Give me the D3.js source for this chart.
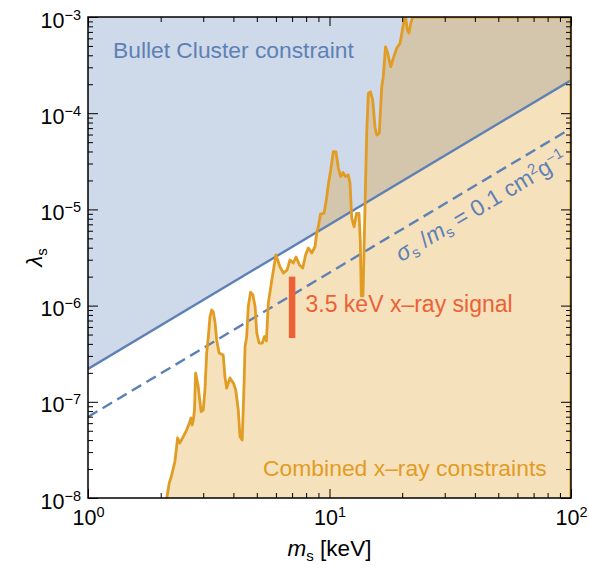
<!DOCTYPE html>
<html><head><meta charset="utf-8">
<script src="https://cdn.jsdelivr.net/npm/d3@7"></script>
<style>body{margin:0;background:#fff} text{font-family:"Liberation Sans",Arial,sans-serif}</style>
</head><body><svg id="c" width="589" height="568"></svg>
<script>
// ---- data ----
const massKeV = [2.12,2.17,2.22,2.29,2.35,2.40,2.48,2.56,2.63,2.67,
  2.70,2.73,2.76,2.79,2.86,2.94,3.00,3.05,3.10,3.15,
  3.20,3.25,3.30,3.36,3.41,3.49,3.63,3.69,3.75,3.87,
  4.00,4.09,4.19,4.26,4.35,4.43,4.47,4.54,4.61,4.71,
  4.82,4.92,5.00,5.11,5.27,5.38,5.48,5.58,5.76,6.00,
  6.24,6.45,6.67,6.86,7.08,7.27,7.51,7.75,7.96,8.17,
  8.44,8.71,8.85,8.99,9.18,9.49,9.70,9.91,10.12,10.37,
  10.64,10.88,11.13,11.37,11.65,11.96,12.16,12.36,12.64,12.94,
  13.25,13.41,13.54,13.76,13.90,14.03,14.26,14.48,14.78,15.10,
  15.43,15.69,16.08,16.45,16.70,17.06,17.42,17.92,18.37,18.98,
  19.59,19.91,20.35,20.68,21.00,21.34,21.69,22.11,22.6];
const lambdaS = [1.0e-8,1.43e-8,1.73e-8,2.38e-8,4.21e-8,3.73e-8,4.34e-8,5.09e-8,6.03e-8,6.79e-8,
  5.74e-8,6.47e-8,8.22e-8,1.99e-7,1.44e-7,7.89e-8,8.22e-8,1.33e-7,3.21e-7,4.75e-7,
  7.67e-7,9.00e-7,8.65e-7,6.59e-7,4.39e-7,3.21e-7,3.06e-7,1.82e-7,1.39e-7,1.77e-7,
  1.57e-7,1.33e-7,8.22e-8,4.34e-8,4.01e-8,1.57e-7,3.74e-7,4.75e-7,9.75e-7,1.38e-6,
  1.29e-6,9.75e-7,5.19e-7,4.08e-7,4.08e-7,4.77e-7,4.29e-7,1.06e-6,1.80e-6,3.36e-6,
  2.52e-6,2.18e-6,2.34e-6,2.98e-6,2.77e-6,3.20e-6,2.64e-6,2.46e-6,3.36e-6,3.97e-6,
  3.52e-6,4.09e-6,5.69e-6,6.61e-6,8.96e-6,9.10e-6,1.25e-5,1.88e-5,2.57e-5,3.98e-5,
  3.95e-5,2.69e-5,2.19e-5,2.42e-5,2.20e-5,2.28e-5,1.88e-5,8.15e-6,6.61e-6,9.10e-6,
  9.10e-6,4.81e-6,1.26e-6,1.26e-6,3.78e-6,1.07e-5,6.22e-5,1.61e-4,1.67e-4,1.37e-4,
  7.19e-5,5.93e-5,6.18e-5,1.87e-4,2.38e-4,4.88e-4,4.20e-4,3.04e-4,3.72e-4,4.73e-4,
  5.33e-4,6.66e-4,9.31e-4,9.76e-4,7.32e-4,6.82e-4,8.60e-4,1.0e-3,1.1e-3];
const bulletLambdaAt1keV = 2.2e-7;     // Bullet Cluster line at 1 keV
const dashedLambdaAt1keV = 6.96e-8;    // sigma/m = 0.1 cm^2/g line at 1 keV
const linePower = 1.5;
const lineMasses = [1, 100];
const signalMass = 7.0;
const signalLambda = [4.6e-7, 2.0e-6];
const xMajor = [1, 10, 100];
const xMajorExp = ["0", "1", "2"];
const yMajor = [1e-8, 1e-7, 1e-6, 1e-5, 1e-4, 1e-3];
const yMajorExp = ["\u22128", "\u22127", "\u22126", "\u22125", "\u22124", "\u22123"];

// ---- layout ----
const L = 88, R = 571, T = 17, B = 498;
const blue = "#5E81B5", orange = "#E19C24", red = "#EB6235";
const svg = d3.select("#c");
const x = d3.scaleLog().domain([1, 100]).range([L, R]);
const y = d3.scaleLog().domain([1e-8, 1e-3]).range([B, T]);

svg.append("defs").append("clipPath").attr("id", "clip")
  .append("rect").attr("x", L).attr("y", T).attr("width", R - L).attr("height", B - T);
const plot = svg.append("g").attr("clip-path", "url(#clip)");

const bullet = m => bulletLambdaAt1keV * Math.pow(m, linePower);
const dashed = m => dashedLambdaAt1keV * Math.pow(m, linePower);
const line = d3.line().x(d => x(d[0])).y(d => y(d[1]));

// blue region (above Bullet Cluster line)
const bluePoly = lineMasses.map(m => [m, bullet(m)]).concat([[100, 1e-3], [1, 1e-3]]);
plot.append("path").attr("d", line(bluePoly) + "Z").attr("fill", blue).attr("fill-opacity", 0.3);

// orange region (under x-ray constraint)
const curve = massKeV.map((m, i) => [m, lambdaS[i]]);
const orangePoly = curve.concat([[100, 1.1e-3], [100, 1e-8], [massKeV[0], 1e-8]]);
plot.append("path").attr("d", line(orangePoly) + "Z").attr("fill", orange).attr("fill-opacity", 0.3);

// lines
plot.append("path").attr("d", line(lineMasses.map(m => [m, bullet(m)])))
  .attr("fill", "none").attr("stroke", blue).attr("stroke-width", 2.4);
plot.append("path").attr("d", line(lineMasses.map(m => [m, dashed(m)])))
  .attr("fill", "none").attr("stroke", blue).attr("stroke-width", 2.4).attr("stroke-dasharray", "11,6");
plot.append("path").attr("d", line([[22.11, 1e-3], [100, 1e-3], [100, 1e-8]]))
  .attr("fill", "none").attr("stroke", orange).attr("stroke-width", 3);
plot.append("path").attr("d", line(curve))
  .attr("fill", "none").attr("stroke", orange).attr("stroke-width", 2.8).attr("stroke-linejoin", "round");

// signal bar
plot.append("line").attr("x1", x(signalMass)).attr("x2", x(signalMass))
  .attr("y1", y(signalLambda[0])).attr("y2", y(signalLambda[1]))
  .attr("stroke", red).attr("stroke-width", 6.5);

// ---- text labels ----
svg.append("text").attr("x", 113).attr("y", 58).attr("font-size", 22.8).attr("fill", blue)
  .text("Bullet Cluster constraint");
svg.append("text").attr("x", 305.5).attr("y", 311.5).attr("font-size", 23).attr("fill", red)
  .text("3.5 keV x\u2013ray signal");
svg.append("text").attr("x", 263).attr("y", 476).attr("font-size", 22.9).attr("fill", orange)
  .text("Combined x\u2013ray constraints");

// rotated dashed-line label
{
  const m0 = 17.3, m1 = 100;
  const ang = Math.atan2(y(dashed(m1)) - y(dashed(m0)), x(m1) - x(m0)) * 180 / Math.PI;
  const t = svg.append("text").attr("font-size", 23).attr("fill", blue)
    .attr("transform", `translate(${x(m0)},${y(dashed(m0))}) rotate(${ang}) translate(0,28)`);
  t.append("tspan").attr("font-style", "italic").text("\u03c3");
  t.append("tspan").attr("font-size", 15).attr("dy", 4).text("s");
  t.append("tspan").attr("dy", -4).attr("font-style", "normal").text(" /");
  t.append("tspan").attr("font-style", "italic").text("m");
  t.append("tspan").attr("font-size", 15).attr("dy", 4).text("s");
  t.append("tspan").attr("dy", -4).attr("font-style", "normal").text(" = 0.1 cm");
  t.append("tspan").attr("font-size", 15).attr("dy", -8).text("2");
  t.append("tspan").attr("dy", 8).text("g");
  t.append("tspan").attr("font-size", 15).attr("dy", -8).text("\u22121");
}

// ---- axes ----
function minorTicks(lo, hi) {
  const out = [];
  for (let d = lo; d < hi * 0.999; d *= 10) for (let k = 2; k <= 9; k++) out.push(d * k);
  return out;
}
const xMinor = minorTicks(1, 100), yMinor = minorTicks(1e-8, 1e-3);
function supLabels(g, exps, dyMain) {
  g.selectAll(".tick text").each(function (d, i) {
    const t = d3.select(this);
    t.text(null).attr("dy", dyMain);
    t.append("tspan").text("10");
    t.append("tspan").attr("font-size", 14.5).attr("dy", -8).text(exps[i]);
  });
}
const axStyle = g => g.attr("font-size", 21.5).attr("font-family", '"Liberation Sans",Arial,sans-serif')
  .call(g => g.select(".domain").remove());

svg.append("g").attr("transform", `translate(0,${B})`)
  .call(d3.axisBottom(x).tickValues(xMajor).tickSize(-9).tickPadding(12).tickFormat(() => "x"))
  .call(axStyle).call(g => supLabels(g, xMajorExp, "0.71em"));
svg.append("g").attr("transform", `translate(0,${B})`)
  .call(d3.axisBottom(x).tickValues(xMinor).tickSize(-5).tickFormat("")).call(axStyle);
svg.append("g").attr("transform", `translate(0,${T})`)
  .call(d3.axisTop(x).tickValues(xMajor).tickSize(-9).tickFormat("")).call(axStyle);
svg.append("g").attr("transform", `translate(0,${T})`)
  .call(d3.axisTop(x).tickValues(xMinor).tickSize(-5).tickFormat("")).call(axStyle);

svg.append("g").attr("transform", `translate(${L},0)`)
  .call(d3.axisLeft(y).tickValues(yMajor).tickSize(-10).tickPadding(7).tickFormat(() => "y"))
  .call(axStyle).call(g => supLabels(g, yMajorExp, "0.47em"));
svg.append("g").attr("transform", `translate(${L},0)`)
  .call(d3.axisLeft(y).tickValues(yMinor).tickSize(-5).tickFormat("")).call(axStyle);
svg.append("g").attr("transform", `translate(${R},0)`)
  .call(d3.axisRight(y).tickValues(yMajor).tickSize(-10).tickFormat("")).call(axStyle);
svg.append("g").attr("transform", `translate(${R},0)`)
  .call(d3.axisRight(y).tickValues(yMinor).tickSize(-5).tickFormat("")).call(axStyle);

svg.append("rect").attr("x", L).attr("y", T).attr("width", R - L).attr("height", B - T)
  .attr("fill", "none").attr("stroke", "#000").attr("stroke-width", 1.5);

// axis titles
{
  const t = svg.append("text").attr("x", (L + R) / 2).attr("y", 556).attr("text-anchor", "middle").attr("font-size", 22.5);
  t.append("tspan").attr("font-style", "italic").text("m");
  t.append("tspan").attr("font-size", 15).attr("dy", 5).text("s");
  t.append("tspan").attr("dy", -5).text(" [keV]");
  const u = svg.append("text").attr("transform", `translate(42,${(T + B) / 2}) rotate(-90)`)
    .attr("text-anchor", "middle").attr("font-size", 22.5);
  u.append("tspan").attr("font-style", "italic").text("\u03bb");
  u.append("tspan").attr("font-size", 15).attr("dy", 5).text("s");
}
</script></body></html>
